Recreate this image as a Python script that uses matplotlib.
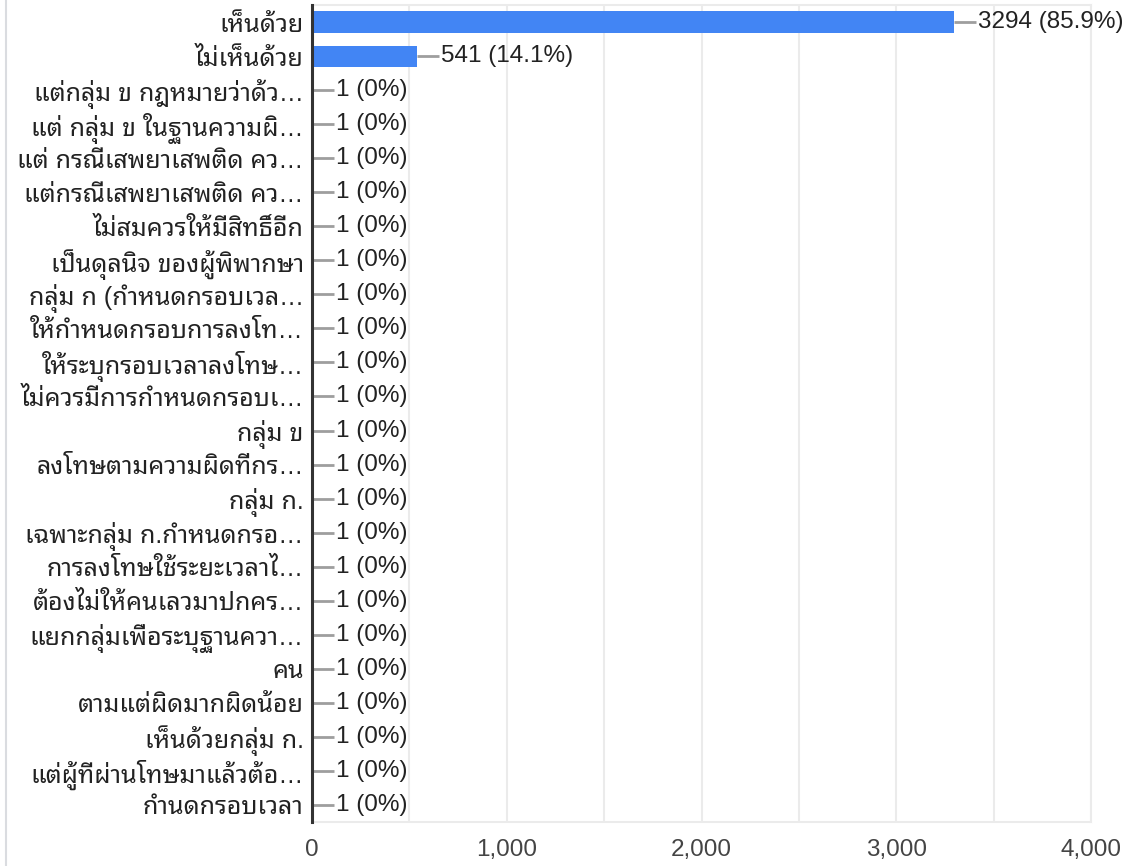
import matplotlib
matplotlib.use("Agg")
import matplotlib.pyplot as plt
from matplotlib.lines import Line2D
from matplotlib.ticker import FuncFormatter, MultipleLocator

plt.rcParams['font.family'] = ['Liberation Sans', 'Noto Sans Thai Looped', 'DejaVu Sans']

# responses (top to bottom)
answers = [
    "เห็นด้วย",
    "ไม่เห็นด้วย",
    "แต่กลุ่ม ข กฎหมายว่าด้ว…",
    "แต่ กลุ่ม ข ในฐานความผิ…",
    "แต่ กรณีเสพยาเสพติด คว…",
    "แต่กรณีเสพยาเสพติด คว…",
    "ไม่สมควรให้มีสิทธิ์อีก",
    "เป็นดุลนิจ ของผู้พิพากษา",
    "กลุ่ม ก (กำหนดกรอบเวล…",
    "ให้กำหนดกรอบการลงโท…",
    "ให้ระบุกรอบเวลาลงโทษ…",
    "ไม่ควรมีการกำหนดกรอบเ…",
    "กลุ่ม ข",
    "ลงโทษตามความผิดที่กร…",
    "กลุ่ม ก.",
    "เฉพาะกลุ่ม ก.กำหนดกรอ…",
    "การลงโทษใช้ระยะเวลาไ…",
    "ต้องไม่ให้คนเลวมาปกคร…",
    "แยกกลุ่มเพื่อระบุฐานควา…",
    "คน",
    "ตามแต่ผิดมากผิดน้อย",
    "เห็นด้วยกลุ่ม ก.",
    "แต่ผู้ทีผ่านโทษมาแล้วต้อ…",
    "กำนดกรอบเวลา",
]
counts = [3294, 541] + [1] * 22
percents = ["85.9", "14.1"] + ["0"] * 22

fig = plt.figure(figsize=(11.31, 8.66), dpi=100)
ax = fig.add_axes([312 / 1131, 1 - 822 / 866, (1091 - 312) / 1131, (822 - 5) / 866])

pos = list(range(len(answers)))
ax.barh(pos, counts, height=0.62, color='#4285f4', zorder=3)

# value labels with short leader lines
px = 4000 / (1091 - 312)  # data units per pixel
for y, c, p in zip(pos, counts, percents):
    ax.plot([c, c + 22 * px], [y, y], color='#9e9e9e', lw=2, zorder=4,
            solid_capstyle='butt')
    ax.text(c + 24 * px, y, f"{c} ({p}%)", va='center', ha='left',
            fontsize=17.5, color='#222222', zorder=5)

ax.set_xlim(0, 4000)
ax.set_ylim(len(answers) - 0.5, -0.5)
ax.set_yticks(pos)
ax.set_yticklabels(answers, fontsize=18, color='#222222')
ax.xaxis.set_major_locator(MultipleLocator(1000))
ax.xaxis.set_minor_locator(MultipleLocator(500))
ax.xaxis.set_major_formatter(FuncFormatter(lambda v, _: f"{int(v):,}"))
ax.tick_params(axis='x', which='both', length=0, labelsize=17.5,
               labelcolor='#444444', pad=12)
ax.tick_params(axis='y', length=0, pad=6)
ax.grid(axis='x', which='both', color='#ebebeb', lw=1.5, zorder=0)

for s in ['top', 'right', 'bottom']:
    ax.spines[s].set_color('#ebebeb')
    ax.spines[s].set_linewidth(1.5)
ax.spines['left'].set_color('#333333')
ax.spines['left'].set_linewidth(2.2)
ax.spines['left'].set_zorder(6)

# outer frame line on the left
fig.add_artist(Line2D([6 / 1131, 6 / 1131], [0, 1], color='#dadce0', lw=1.5))

fig.savefig("out.png", dpi=100)
